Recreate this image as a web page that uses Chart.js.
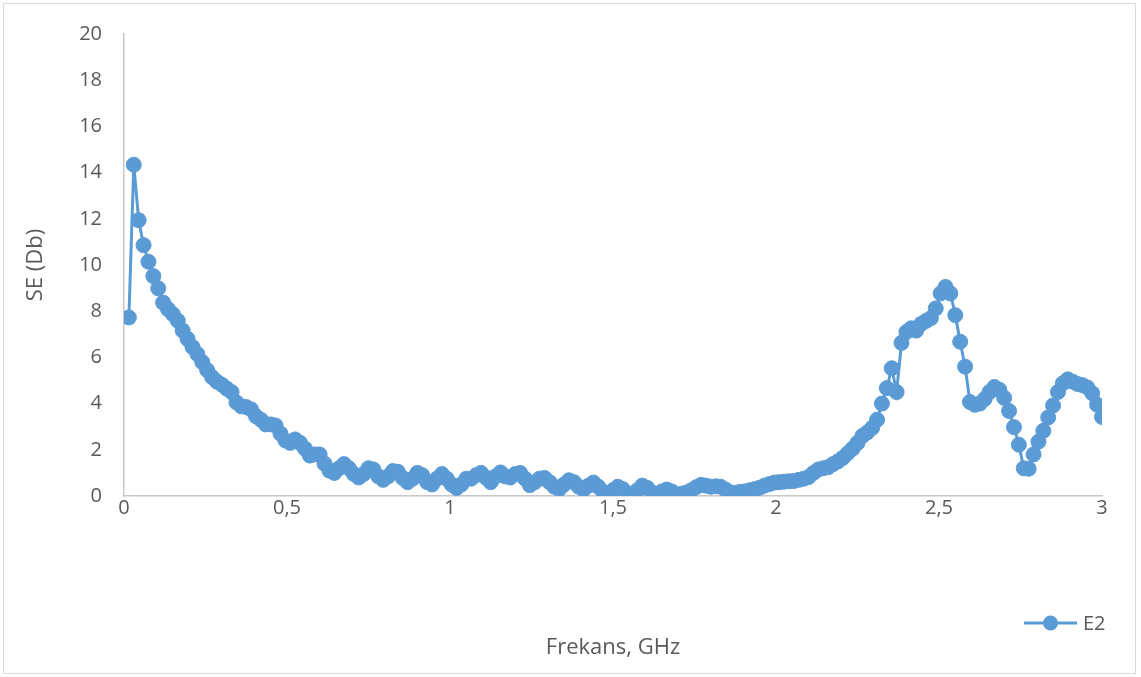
<!DOCTYPE html>
<html>
<head>
<meta charset="utf-8">
<script src="https://cdn.jsdelivr.net/npm/chart.js@4"></script>
<style>
  html, body { margin: 0; padding: 0; background: #fff; }
  #wrap { width: 1141px; height: 677px; position: relative; }
</style>
</head>
<body>
<div id="wrap"><canvas id="chart" width="1141" height="677"></canvas></div>
<script>
// Frekans (GHz)
const freqs = [
  0.015,0.03,0.045,0.06,0.075,0.09,0.105,0.12,0.135,0.15,
  0.165,0.18,0.195,0.21,0.225,0.24,0.255,0.27,0.285,0.3,
  0.315,0.33,0.345,0.36,0.375,0.39,0.405,0.42,0.435,0.45,
  0.465,0.48,0.495,0.51,0.525,0.54,0.555,0.57,0.585,0.6,
  0.615,0.63,0.645,0.66,0.675,0.69,0.705,0.72,0.735,0.75,
  0.765,0.78,0.795,0.81,0.825,0.84,0.855,0.87,0.885,0.9,
  0.915,0.93,0.945,0.96,0.975,0.99,1.005,1.02,1.035,1.05,
  1.065,1.08,1.095,1.11,1.125,1.14,1.155,1.17,1.185,1.2,
  1.215,1.23,1.245,1.26,1.275,1.29,1.305,1.32,1.335,1.35,
  1.365,1.38,1.395,1.41,1.425,1.44,1.455,1.47,1.485,1.5,
  1.515,1.53,1.545,1.56,1.575,1.59,1.605,1.62,1.635,1.65,
  1.665,1.68,1.695,1.71,1.725,1.74,1.755,1.77,1.785,1.8,
  1.815,1.83,1.845,1.86,1.875,1.89,1.905,1.92,1.935,1.95,
  1.965,1.98,1.995,2.01,2.025,2.04,2.055,2.07,2.085,2.1,
  2.115,2.13,2.145,2.16,2.175,2.19,2.205,2.22,2.235,2.25,
  2.265,2.28,2.295,2.31,2.325,2.34,2.355,2.37,2.385,2.4,
  2.415,2.43,2.445,2.46,2.475,2.49,2.505,2.52,2.535,2.55,
  2.565,2.58,2.595,2.61,2.625,2.64,2.655,2.67,2.685,2.7,
  2.715,2.73,2.745,2.76,2.775,2.79,2.805,2.82,2.835,2.85,
  2.865,2.88,2.895,2.91,2.925,2.94,2.955,2.97,2.985,3.0
];

// SE (Db), seri E2
const seE2 = [
  7.73,14.34,11.94,10.86,10.14,9.52,8.99,8.37,8.09,7.87,
  7.59,7.16,6.8,6.45,6.15,5.8,5.45,5.15,4.95,4.82,
  4.65,4.5,4.05,3.88,3.85,3.75,3.45,3.3,3.1,3.1,
  3.05,2.7,2.4,2.3,2.45,2.3,2.05,1.75,1.8,1.8,
  1.4,1.1,1.0,1.2,1.38,1.2,0.95,0.8,0.95,1.2,
  1.15,0.85,0.7,0.85,1.08,1.05,0.78,0.6,0.75,1.0,
  0.9,0.6,0.5,0.75,0.95,0.75,0.5,0.35,0.5,0.75,
  0.75,0.9,1.0,0.8,0.6,0.85,1.02,0.85,0.8,0.95,
  1.0,0.75,0.47,0.6,0.75,0.78,0.6,0.4,0.3,0.5,
  0.68,0.6,0.4,0.28,0.45,0.58,0.4,0.18,0.08,0.25,
  0.4,0.3,0.12,0.05,0.25,0.45,0.35,0.15,0.1,0.2,
  0.28,0.2,0.05,0.1,0.15,0.25,0.38,0.48,0.45,0.4,
  0.42,0.4,0.28,0.15,0.13,0.18,0.2,0.25,0.3,0.36,
  0.45,0.52,0.58,0.6,0.62,0.64,0.65,0.7,0.75,0.82,
  1.0,1.15,1.2,1.25,1.38,1.5,1.65,1.85,2.05,2.3,
  2.6,2.75,2.95,3.3,4.0,4.67,5.53,4.5,6.63,7.1,
  7.26,7.16,7.45,7.58,7.7,8.12,8.77,9.05,8.77,7.83,
  6.68,5.6,4.07,3.95,4.0,4.2,4.5,4.72,4.6,4.25,
  3.68,2.98,2.22,1.2,1.18,1.8,2.35,2.82,3.4,3.92,
  4.5,4.88,5.05,4.95,4.85,4.8,4.7,4.45,3.95,3.42
];

const seriesName = 'E2';
const xTitle = 'Frekans, GHz';
const yTitle = 'SE (Db)';

const BLUE = '#5b9bd5';
const TEXT = '#595959';
const FONT = "'Open Sans', 'Noto Sans', sans-serif";

// frame round the whole chart + legend placed above the x title, like Excel
const frameAndLegend = {
  id: 'frameAndLegend',
  beforeDraw(chart) {
    const ctx = chart.ctx;
    ctx.save();
    ctx.strokeStyle = '#d9d9d9';
    ctx.lineWidth = 1;
    ctx.strokeRect(3.5, 3.5, 1132, 670);
    ctx.restore();
  },
  afterDraw(chart) {
    const ctx = chart.ctx;
    const y = 623;
    ctx.save();
    ctx.strokeStyle = BLUE;
    ctx.lineWidth = 3;
    ctx.beginPath();
    ctx.moveTo(1024, y);
    ctx.lineTo(1077, y);
    ctx.stroke();
    ctx.fillStyle = BLUE;
    ctx.beginPath();
    ctx.arc(1050.5, y, 7.5, 0, Math.PI * 2);
    ctx.fill();
    ctx.fillStyle = TEXT;
    ctx.font = '20px ' + FONT;
    ctx.textBaseline = 'middle';
    ctx.fillText(seriesName, 1083, y + 1);
    ctx.restore();
  }
};

new Chart(document.getElementById('chart'), {
  type: 'line',
  data: {
    datasets: [{
      label: seriesName,
      data: freqs.map((f, i) => ({ x: f, y: seE2[i] })),
      borderColor: BLUE,
      backgroundColor: BLUE,
      borderWidth: 3,
      pointRadius: 7.5,
      pointBorderWidth: 1,
      pointBackgroundColor: BLUE,
      pointBorderColor: BLUE,
      tension: 0,
    }],
  },
  options: {
    responsive: false,
    animation: false,
    layout: { padding: { top: 32, right: 39, bottom: 0, left: 0 } },
    plugins: {
      legend: { display: false },
      tooltip: { enabled: false },
    },
    scales: {
      x: {
        type: 'linear',
        min: 0,
        max: 3,
        afterFit: s => { s.height = 181; },
        grid: { display: false, drawTicks: false },
        border: { display: true, color: '#c8c8c8', width: 1.5 },
        ticks: {
          stepSize: 0.5,
          padding: 0,
          color: TEXT,
          font: { family: FONT, size: 20 },
          callback: v => String(v).replace('.', ','),
        },
        title: {
          display: true,
          text: xTitle,
          color: TEXT,
          font: { family: FONT, size: 22 },
          padding: { top: 0, bottom: 16 },
        },
      },
      y: {
        min: 0,
        max: 20,
        afterFit: s => { s.width = 124; },
        grid: { display: false, drawTicks: false },
        border: { display: true, color: '#c8c8c8', width: 1.5 },
        ticks: {
          stepSize: 2,
          padding: 22,
          color: TEXT,
          font: { family: FONT, size: 20 },
        },
        title: {
          display: true,
          text: yTitle,
          color: TEXT,
          font: { family: FONT, size: 22 },
          padding: { top: 23, bottom: 0 },
        },
      },
    },
  },
  plugins: [frameAndLegend],
});
</script>
</body>
</html>
